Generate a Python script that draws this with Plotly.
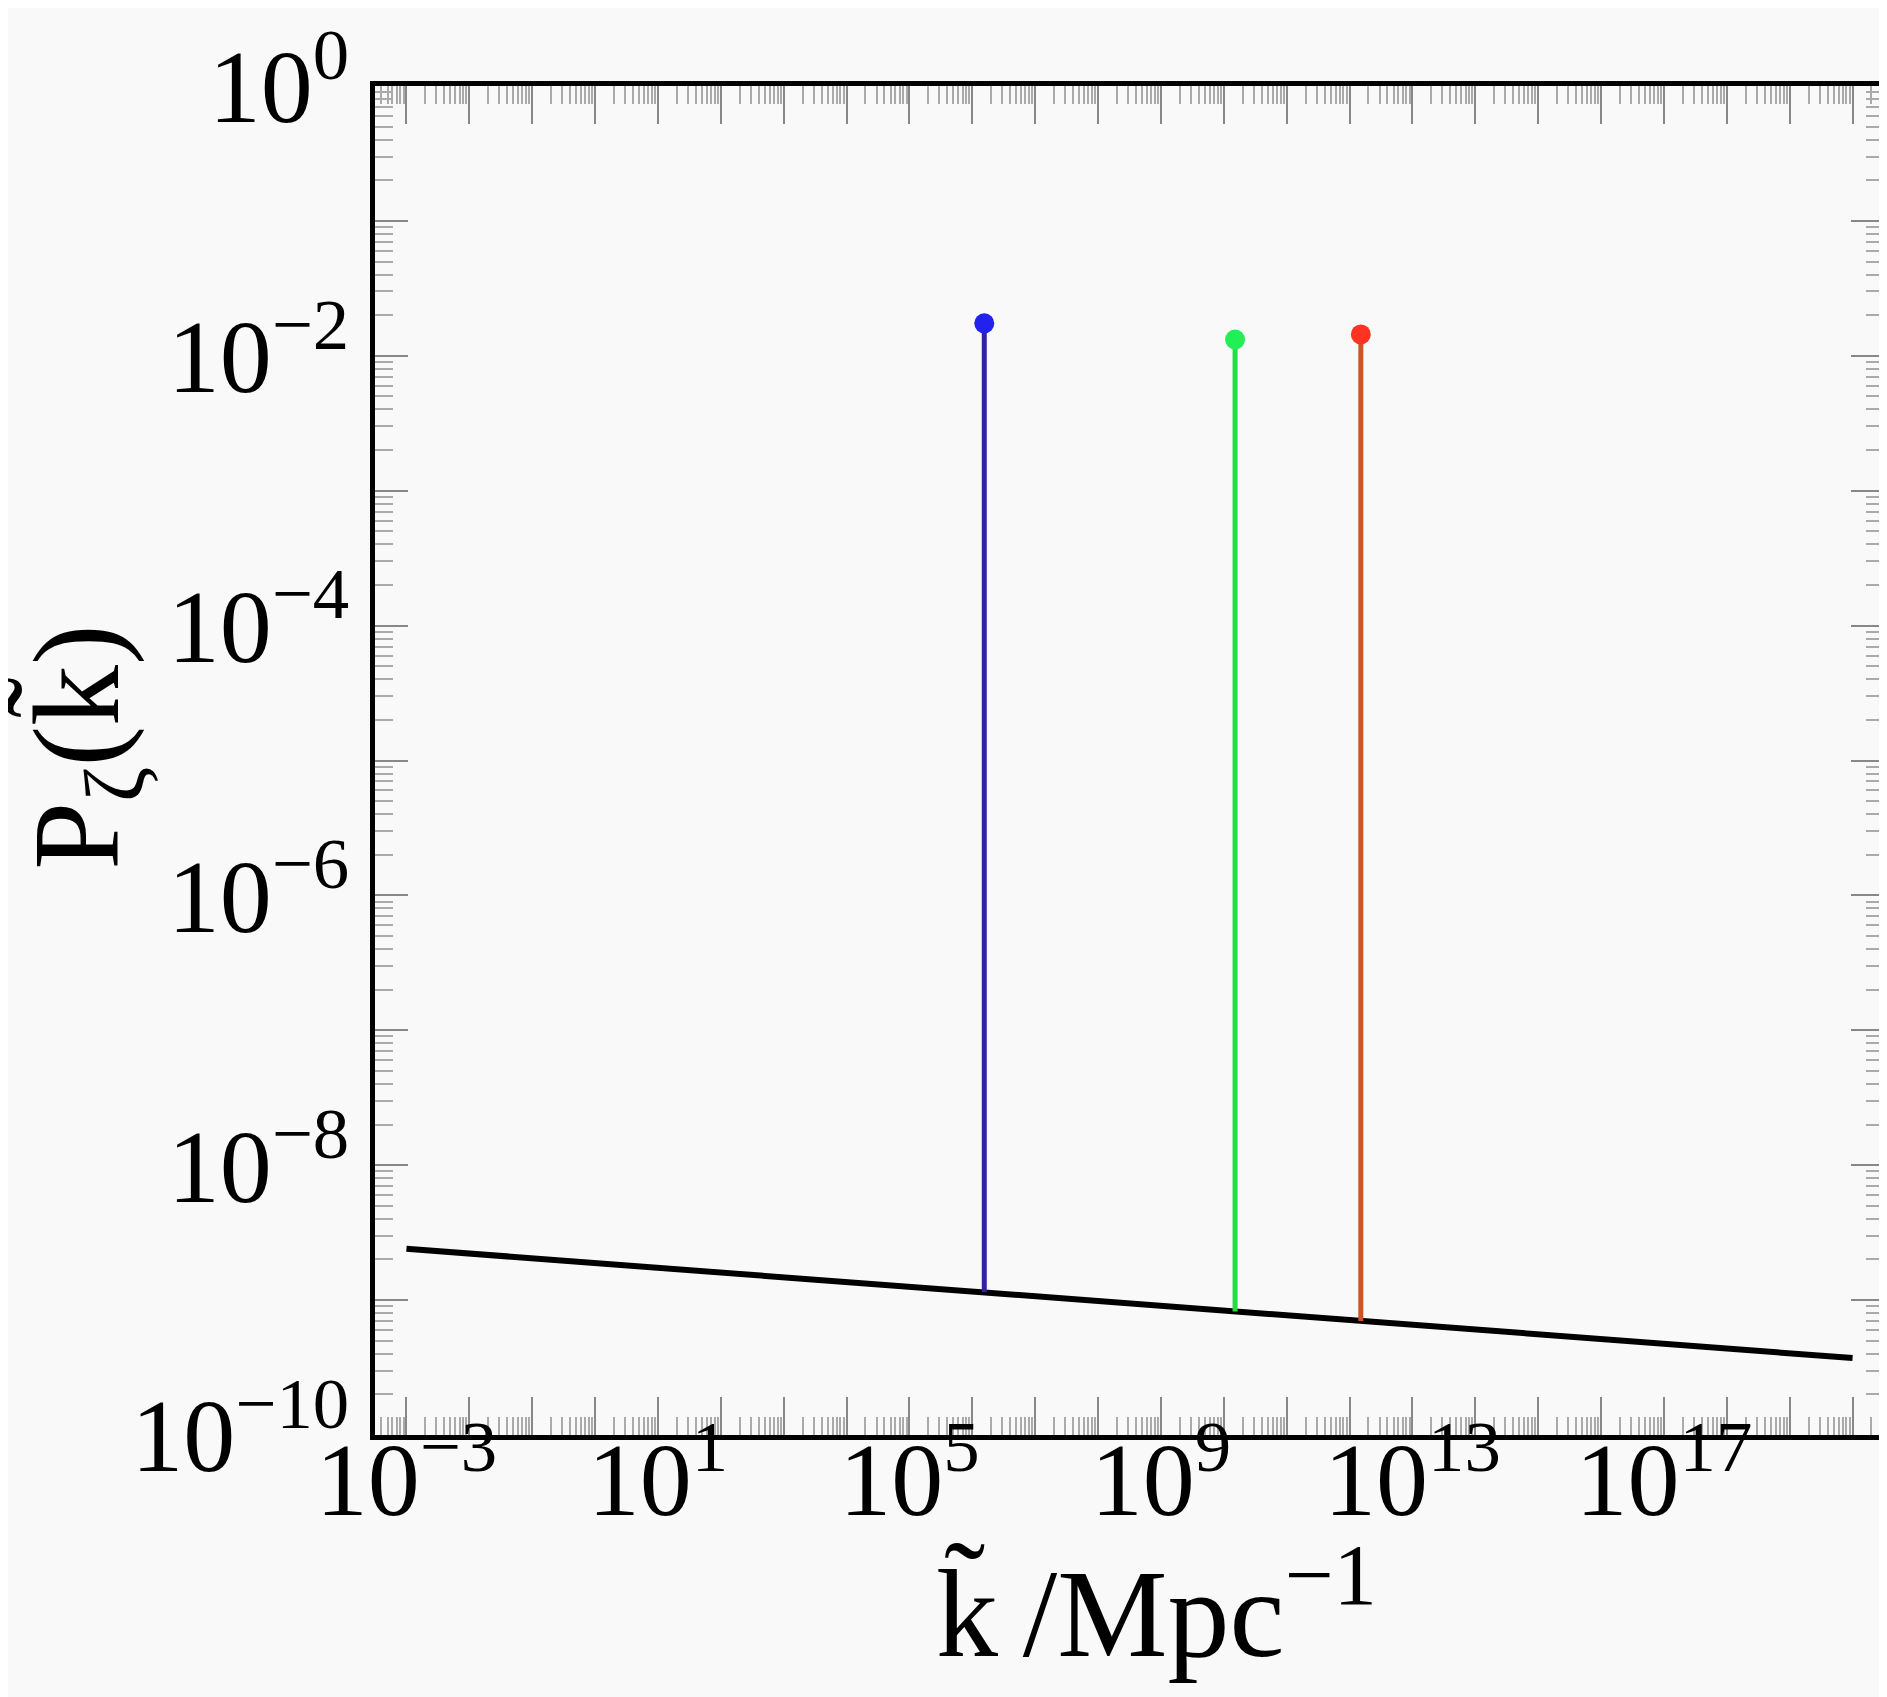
import numpy as np
import plotly.graph_objects as go

# power spectrum (black line)
k_base = [1e-3, 1e2, 1e6, 1e10, 1e14, 1e20]
P_base = [2.40e-9, 1.60e-9, 1.16e-9, 8.36e-10, 6.05e-10, 3.72e-10]

# the three spikes
spike_k = [1.55e6, 1.51e10, 1.51e12]
spike_bottom = [1.15e-9, 8.24e-10, 7.0e-10]
spike_top = [0.0174, 0.0132, 0.0144]
spike_line_colors = ["#3322a8", "#22dd44", "#cc5522"]
spike_dot_colors = ["#2222ee", "#22ee55", "#ff3322"]

x_labels = {-3: "10<sup>−3</sup>", 1: "10<sup>1</sup>", 5: "10<sup>5</sup>",
            9: "10<sup>9</sup>", 13: "10<sup>13</sup>", 17: "10<sup>17</sup>"}
y_labels = {0: "10<sup>0</sup>", -2: "10<sup>−2</sup>", -4: "10<sup>−4</sup>",
            -6: "10<sup>−6</sup>", -8: "10<sup>−8</sup>", -10: "10<sup>−10</sup>"}

FONT = "Liberation Serif"

fig = go.Figure()
fig.add_trace(go.Scatter(x=k_base, y=P_base, mode="lines",
                         line=dict(color="black", width=6), showlegend=False))
for i in range(len(spike_k)):
    fig.add_trace(go.Scatter(x=[spike_k[i], spike_k[i]], y=[spike_bottom[i], spike_top[i]],
                             mode="lines", line=dict(color=spike_line_colors[i], width=5),
                             showlegend=False))
    fig.add_trace(go.Scatter(x=[spike_k[i]], y=[spike_top[i]], mode="markers",
                             marker=dict(color=spike_dot_colors[i], size=20),
                             showlegend=False))

x_decades = list(range(-3, 21))
y_decades = list(range(-10, 1))

axis_common = dict(
    type="log", showgrid=False, zeroline=False,
    showline=True, linecolor="black", linewidth=5, mirror="ticks",
    ticks="inside", tickcolor="#888888", tickwidth=2,
    tickfont=dict(family=FONT, size=104, color="black"),
    minor=dict(ticks="inside", ticklen=18, tickcolor="#aaaaaa", tickwidth=2, dtick="D1"),
)

fig.update_xaxes(**axis_common, range=[-3.5, 20.5], ticklen=38, ticklabelstandoff=-50,
                 tickvals=[10.0 ** d for d in x_decades],
                 ticktext=[x_labels.get(d, "") for d in x_decades])
fig.update_yaxes(**axis_common, range=[-10, 0], ticklen=33,
                 tickvals=[10.0 ** d for d in y_decades],
                 ticktext=[y_labels.get(d, "") for d in y_decades])

fig.add_annotation(text="P<sub>ζ</sub>(k\u0303)", textangle=-90, showarrow=False,
                   xref="paper", yref="paper", x=-0.193, y=0.51,
                   xanchor="center", yanchor="middle",
                   font=dict(family=FONT, size=122, color="black"))
fig.add_annotation(text="k\u0303\u2009/Mpc<sup>−1</sup>", showarrow=False,
                   xref="paper", yref="paper", x=0.518, y=-0.126,
                   xanchor="center", yanchor="middle",
                   font=dict(family=FONT, size=124, color="black"))

fig.update_layout(
    width=1887, height=1697,
    margin=dict(l=367, r=6, t=75, b=270),
    paper_bgcolor="#f9f9f9", plot_bgcolor="#f9f9f9",
)

fig.write_html("out.html")
